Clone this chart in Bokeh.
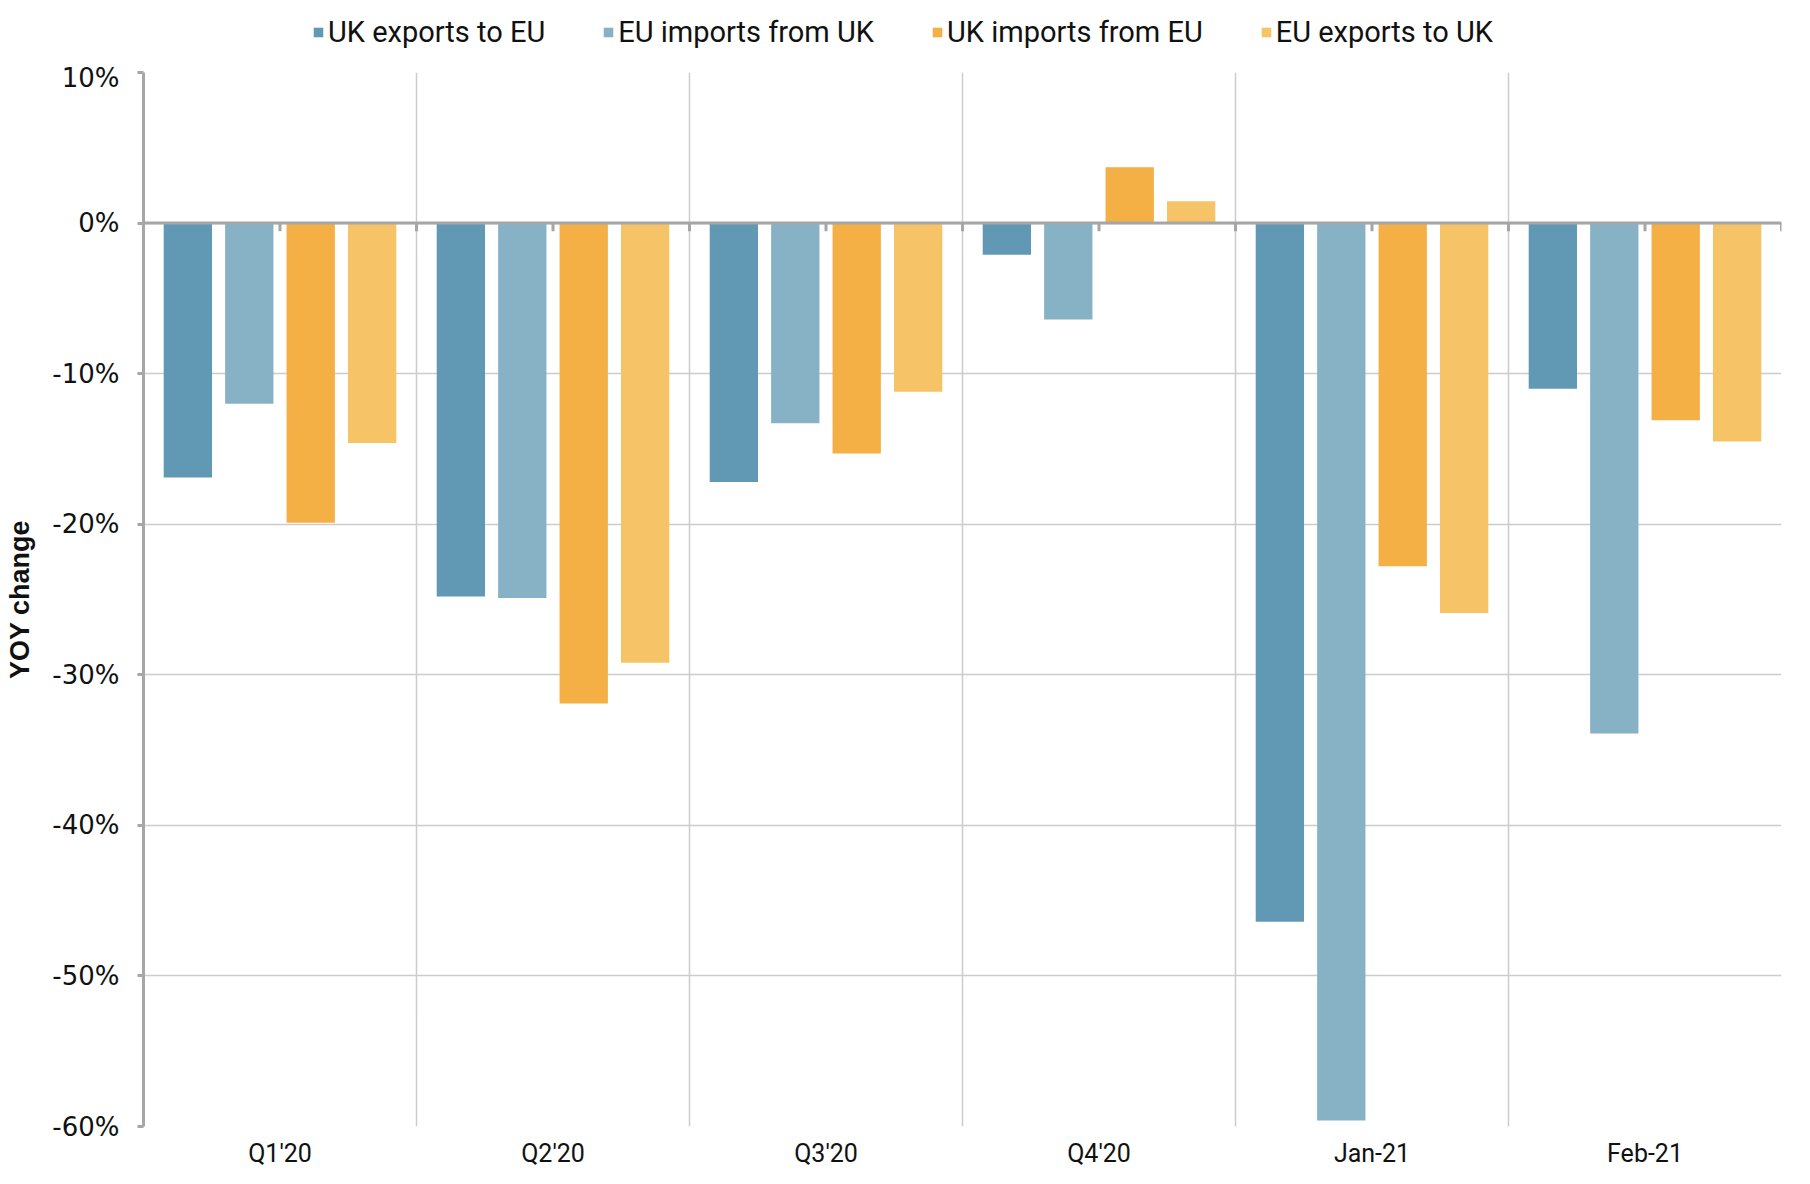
from bokeh.plotting import figure
from bokeh.layouts import column
from bokeh.models import (ColumnDataSource, FixedTicker, PrintfTickFormatter, Legend,
                          LegendItem, Span)
from bokeh.embed import file_html
from bokeh.resources import INLINE

categories = ["Q1'20", "Q2'20", "Q3'20", "Q4'20", "Jan-21", "Feb-21"]
series_names = ["UK exports to EU", "EU imports from UK", "UK imports from EU", "EU exports to UK"]
uk_exports_to_eu = [-16.9, -24.8, -17.2, -2.1, -46.4, -11.0]
eu_imports_from_uk = [-12.0, -24.9, -13.3, -6.4, -59.6, -33.9]
uk_imports_from_eu = [-19.9, -31.9, -15.3, 3.7, -22.8, -13.1]
eu_exports_to_uk = [-14.6, -29.2, -11.2, 1.45, -25.9, -14.5]
y_ticks = [10, 0, -10, -20, -30, -40, -50, -60]

colors = ["#6199B5", "#87B2C6", "#F4AF45", "#F6C467"]
series = [uk_exports_to_eu, eu_imports_from_uk, uk_imports_from_eu, eu_exports_to_uk]

FONT = "Roboto"
FW, FH = 1638, 1054
LEFT, RIGHT, TOP, BOTTOM = 143, 21, 10, 48
TOTAL_W = LEFT + FW + RIGHT

p = figure(frame_width=FW, frame_height=FH, x_range=(0, len(categories)), y_range=(-60, 10),
           output_backend="svg", toolbar_location=None,
           min_border_left=LEFT, min_border_right=RIGHT, min_border_bottom=BOTTOM,
           min_border_top=TOP)
p.outline_line_color = None
p.background_fill_color = "white"

centers = [i + 0.5 for i in range(len(categories))]
spacing = 0.225
bar_w = 0.177
for k, (name, vals, col) in enumerate(zip(series_names, series, colors)):
    xs = [c + (k - 1.5) * spacing for c in centers]
    src = ColumnDataSource(dict(x=xs, top=vals))
    p.vbar(x="x", top="top", bottom=0, width=bar_w, source=src,
           fill_color=col, line_color=None)

# zero line and its ticks
tick_x = centers + [float(i) for i in range(1, len(categories) + 1)]
p.segment(x0=tick_x, x1=tick_x, y0=[0] * len(tick_x), y1=[-0.55] * len(tick_x),
          line_color="#A6A6A6", line_width=3)
p.add_layout(Span(location=0, dimension="width", line_color="#A6A6A6", line_width=3))

# axes
p.xaxis.ticker = FixedTicker(ticks=centers)
p.xaxis.major_label_overrides = {c: lab for c, lab in zip(centers, categories)}
p.xaxis.axis_line_color = None
p.xaxis.major_tick_line_color = None
p.xaxis.minor_tick_line_color = None
p.xaxis.major_label_text_font = FONT
p.xaxis.major_label_text_font_size = "25px"
p.xaxis.major_label_text_color = "#111111"
p.xaxis.major_label_standoff = 6

p.yaxis.ticker = FixedTicker(ticks=y_ticks)
p.yaxis.formatter = PrintfTickFormatter(format="%d%%")
p.yaxis.axis_line_color = "#A6A6A6"
p.yaxis.axis_line_width = 3
p.yaxis.major_tick_line_color = "#A6A6A6"
p.yaxis.major_tick_line_width = 3
p.yaxis.major_tick_out = 6
p.yaxis.major_tick_in = 0
p.yaxis.minor_tick_line_color = None
p.yaxis.major_label_text_font = "DejaVu Sans"
p.yaxis.major_label_text_font_size = "26px"
p.yaxis.major_label_text_color = "#111111"
p.yaxis.major_label_standoff = 18
p.yaxis.axis_label = "YOY change"
p.yaxis.axis_label_text_font = "Liberation Sans"
p.yaxis.axis_label_text_font_style = "bold"
p.yaxis.axis_label_text_font_size = "27px"
p.yaxis.axis_label_text_color = "#111111"
p.yaxis.axis_label_standoff = 14

p.ygrid.ticker = FixedTicker(ticks=y_ticks)
p.ygrid.grid_line_color = "#CCCCCC"
p.ygrid.grid_line_width = 1.5
p.xgrid.ticker = FixedTicker(ticks=list(range(1, len(categories) + 1)))
p.xgrid.grid_line_color = "#CCCCCC"
p.xgrid.grid_line_width = 1.5

# legend strip above the chart (its renderers sit outside the visible range)
lg = figure(width=TOTAL_W, height=62, x_range=(0, 1), y_range=(0, 1),
            output_backend="svg", toolbar_location=None,
            x_axis_location=None, y_axis_location=None,
            min_border_left=0, min_border_right=0, min_border_top=0, min_border_bottom=0)
lg.outline_line_color = None
lg.xgrid.visible = False
lg.ygrid.visible = False
items = []
for name, col in zip(series_names, colors):
    r = lg.vbar(x=[5], top=[0], width=0.1, fill_color=col, line_color=None)
    items.append(LegendItem(label=name, renderers=[r]))
legend = Legend(items=items, orientation="horizontal", location=(169, 13),
                label_text_font=FONT, label_text_font_size="29px", label_text_color="#111111",
                glyph_width=12, glyph_height=12, label_standoff=4, spacing=57,
                padding=0, margin=0, border_line_color=None, background_fill_alpha=0,
                label_height=30)
lg.add_layout(legend, "center")

layout = column(lg, p, spacing=0)
open("out.html", "w").write(file_html(layout, INLINE))
